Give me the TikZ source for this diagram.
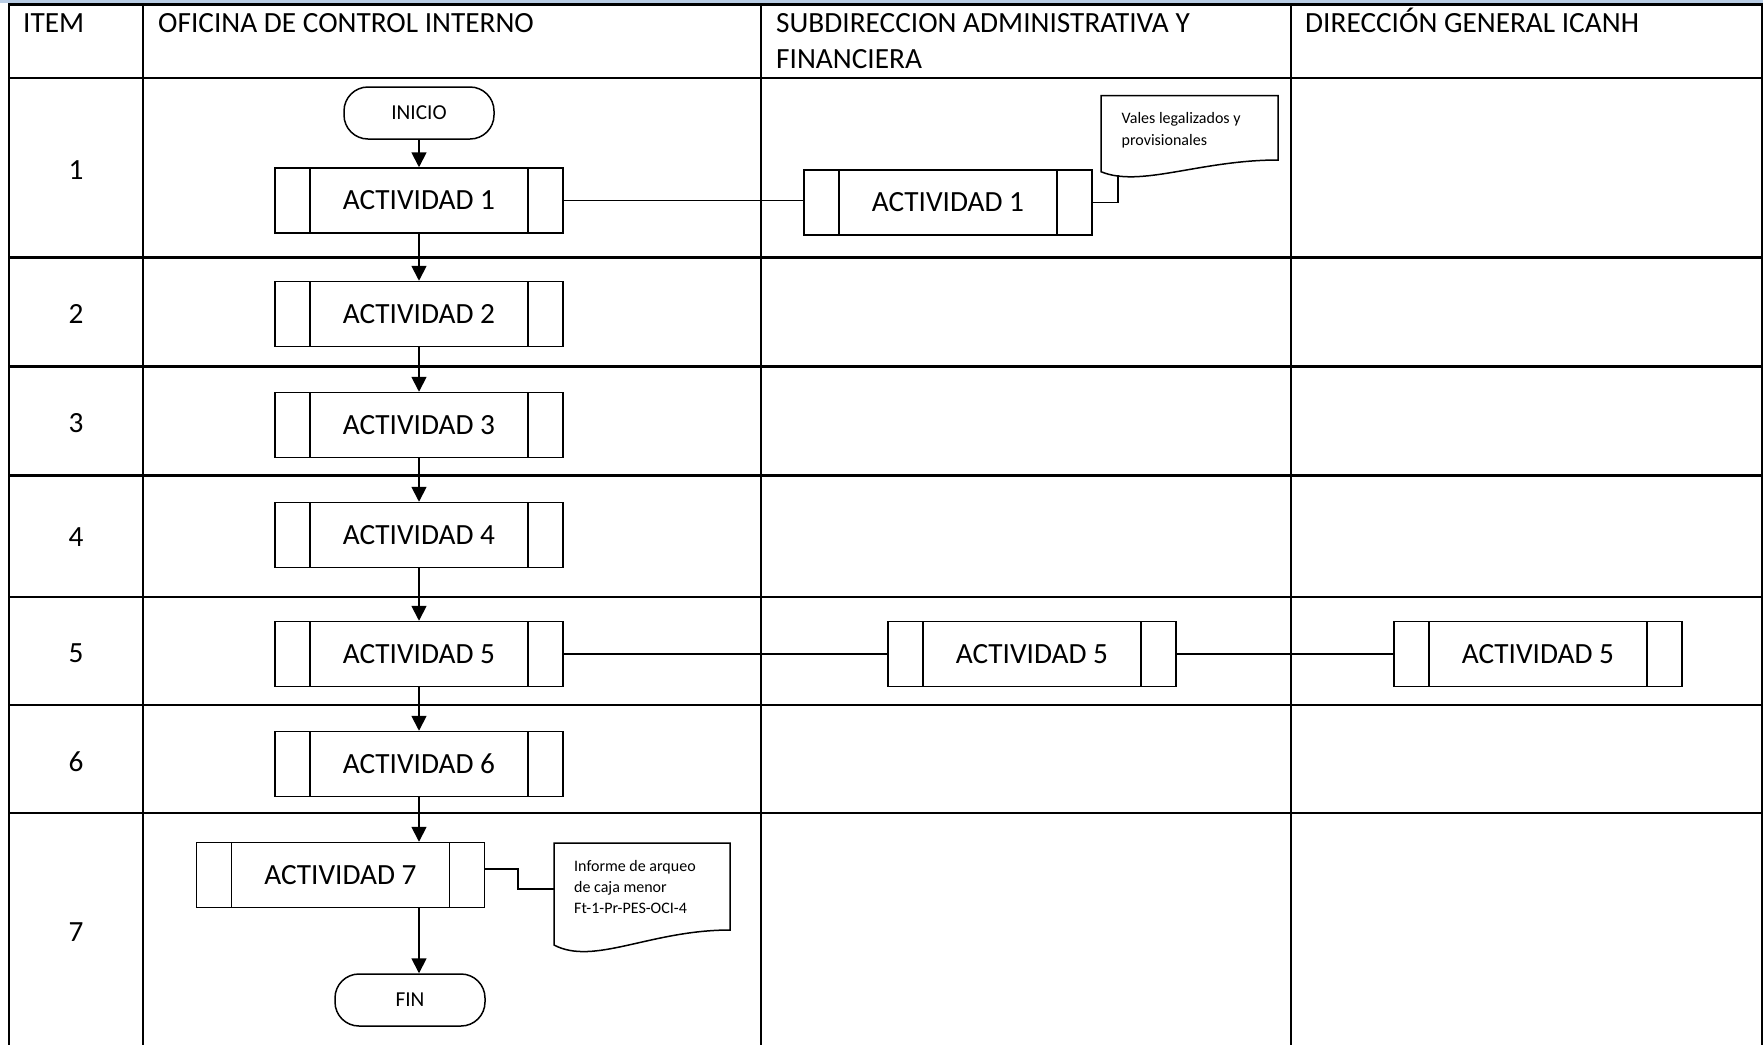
\documentclass[tikz,border=0pt]{standalone}
\usepackage{fontspec}
\setmainfont{Carlito}
\usetikzlibrary{arrows.meta,calc}
\definecolor{band}{RGB}{184,204,228}
\begin{document}
\begin{tikzpicture}[x=1pt,y=-1pt,
  gridline/.style={line width=2.4pt},
  proc/.style={draw, line width=1.5pt, minimum width=288pt, minimum height=65pt, inner sep=0pt,
    font=\fontsize{29.3}{31}\selectfont,
    path picture={
      \draw[line width=1.5pt] ([xshift=35pt]path picture bounding box.north west) -- ([xshift=35pt]path picture bounding box.south west);
      \draw[line width=1.5pt] ([xshift=-35pt]path picture bounding box.north east) -- ([xshift=-35pt]path picture bounding box.south east);}},
  term/.style={draw, line width=1.5pt, rounded corners=24pt, minimum width=150pt, minimum height=52pt,
    inner sep=0pt, font=\fontsize{21.3}{23}\selectfont},
  arr/.style={line width=1.8pt, -{Triangle[length=15pt,width=15pt]}},
  conn/.style={line width=1.3pt},
  thickconn/.style={line width=1.8pt},
  docshape/.style={draw, line width=1.5pt, fill=white},
  hdr/.style={anchor=base west, inner sep=0pt, font=\fontsize{29.3}{36}\selectfont},
  hdrtwo/.style={anchor=north west, inner sep=0pt, align=left, font=\fontsize{29.3}{36}\selectfont},
  num/.style={inner sep=0pt, font=\fontsize{29.3}{31}\selectfont},
  doctext/.style={anchor=north west, inner sep=0pt, align=left, font=\fontsize{16}{21.3}\selectfont}
]
\useasboundingbox (0,0) rectangle (1763,1045);
\fill[white] (0,0) rectangle (1763,1045);
% top band
\fill[band] (0,0) rectangle (1763,3.2);
% grid
\draw[line width=3pt] (8,4.6) -- (1763,4.6);
\foreach \yy in {78,257.5,366.5,475.6,597,705,813}{
  \draw[gridline] (9,\yy) -- (1762,\yy);
}
\foreach \xx in {9,143,761,1291,1762}{
  \draw[gridline] (\xx,3) -- (\xx,1045);
}
% headers
\node[hdr] (hitem) at (23,32) {ITEM};
\node[hdr] (hoci) at (158,32) {OFICINA DE CONTROL INTERNO};
\node[hdrtwo] (hsaf) at (776,13.2) {SUBDIRECCION ADMINISTRATIVA Y\\FINANCIERA};
\node[hdr] (hdg) at (1305,32) {DIRECCIÓN GENERAL ICANH};
% row numbers
\node[num] (n1) at (76,170.5) {1};
\node[num] (n2) at (76,314) {2};
\node[num] (n3) at (76,423.5) {3};
\node[num] (n4) at (76,537.5) {4};
\node[num] (n5) at (76,653) {5};
\node[num] (n6) at (76,761.5) {6};
\node[num] (n7) at (76,932) {7};
% main column
\node[term] (ini) at (419,113) {INICIO};
\node[proc] (a1) at (419,200.5) {ACTIVIDAD 1};
\node[proc] (a2) at (419,314) {ACTIVIDAD 2};
\node[proc] (a3) at (419,425) {ACTIVIDAD 3};
\node[proc] (a4) at (419,535) {ACTIVIDAD 4};
\node[proc] (a5) at (419,654) {ACTIVIDAD 5};
\node[proc] (a6) at (419,764) {ACTIVIDAD 6};
\node[proc] (a7) at (340.5,875) {ACTIVIDAD 7};
\node[term] (fin) at (410,1000) {FIN};
% other columns
\node[proc] (b1) at (948,202.5) {ACTIVIDAD 1};
\node[proc] (b5) at (1032,654) {ACTIVIDAD 5};
\node[proc] (c5) at (1538,654) {ACTIVIDAD 5};
% documents
\draw[docshape] (1101,95.5) -- (1278,95.5) -- (1278,160)
  .. controls (1200,160) and (1140,188) .. (1101,171.7) -- cycle;
\node[doctext] (d1) at (1121.5,112.5) {Vales legalizados y\\provisionales};
\coordinate (d1b) at (1118,174.8);
\draw[docshape] (554,843) -- (730,843) -- (730,930)
  .. controls (650,930) and (594,966) .. (554,945) -- cycle;
\node[doctext] (d2) at (574,860) {Informe de arqueo\\de caja menor\\Ft-1-Pr-PES-OCI-4};
\coordinate (k1) at (518,889);
\coordinate (d2in) at (554,889);
% arrows
\draw[arr] (ini) -- (a1);
\draw[arr] (a1) -- (a2);
\draw[arr] (a2) -- (a3);
\draw[arr] (a3) -- (a4);
\draw[arr] (a4) -- (a5);
\draw[arr] (a5) -- (a6);
\draw[arr] (a6.south) -- (a6.south |- a7.north);
\draw[arr] (a6.south |- a7.south) -- (a6.south |- fin.north);
% connectors
\draw[conn] (a1.east) -- (a1.east -| b1.west);
\draw[thickconn] (a5.east) -- (b5.west);
\draw[thickconn] (b5.east) -- (c5.west);
\draw[conn] (b1.east) -| (d1b);
\draw[conn] ([yshift=6pt]a7.east) -| (k1) -- (d2in);
\end{tikzpicture}
\end{document}
